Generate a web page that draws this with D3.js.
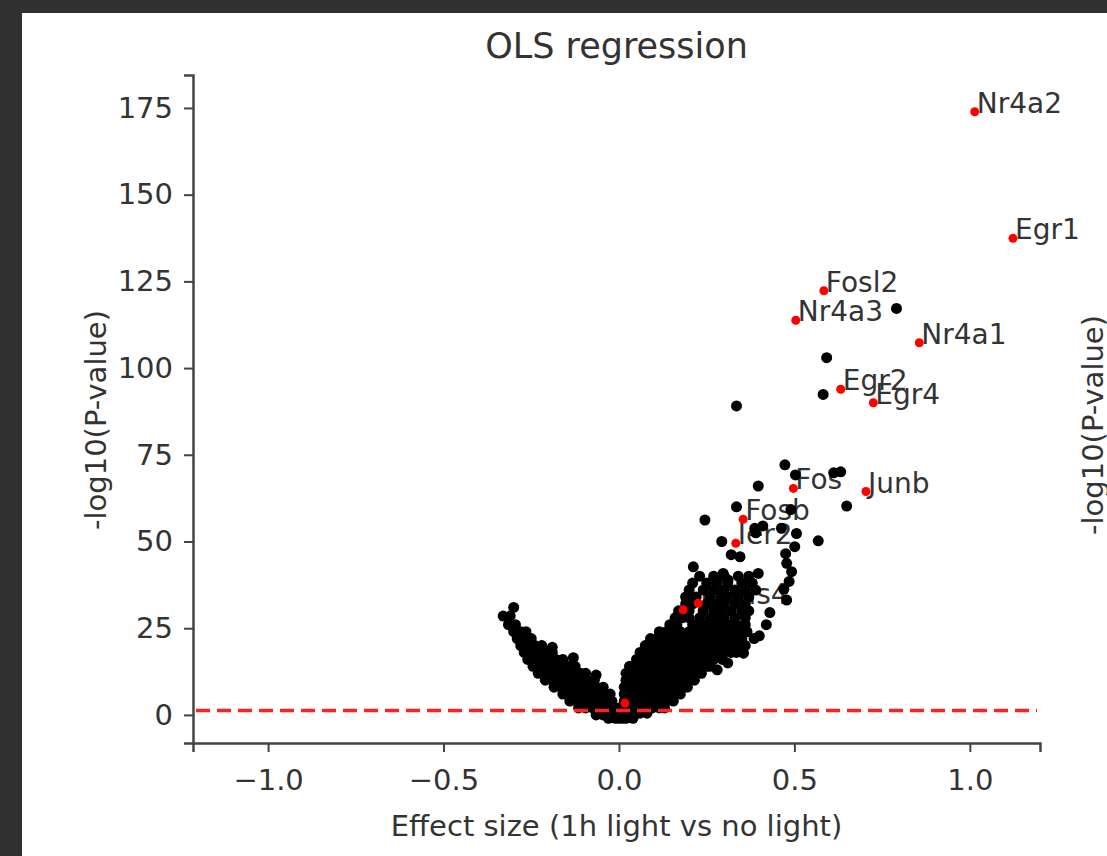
<!DOCTYPE html>
<html>
<head>
<meta charset="utf-8">
<script src="https://cdnjs.cloudflare.com/ajax/libs/d3/7.8.5/d3.min.js"></script>
<style>
    html, body { margin: 0; padding: 0; background: #303030; overflow: hidden; }
    svg { display: block; }
    text { font-family: 'DejaVu Sans', sans-serif; fill: #333; }
</style>
</head>
<body>
<svg id="chart" width="1107" height="856"></svg>
<script>
// values
var xTicks = [-1.0, -0.5, 0.0, 0.5, 1.0];
var yTicks = [0, 25, 50, 75, 100, 125, 150, 175];

var genes = ['Nr4a2', 'Egr1', 'Fosl2', 'Nr4a3', 'Nr4a1', 'Egr2', 'Egr4', 'Fos', 'Junb', 'Fosb', 'Ier2', 'Npas4'];
var geneEffect = [1.014, 1.123, 0.584, 0.504, 0.856, 0.632, 0.725, 0.497, 0.704, 0.354, 0.333, 0.226];
var geneLogP = [173.9, 137.4, 122.3, 113.8, 107.3, 93.9, 90.0, 65.3, 64.4, 56.4, 49.5, 32.2];

// red hits whose labels are hidden under the cloud
var hiddenHits = [[0.183, 30.3], [0.017, 3.4]];

var threshold = 1.3;

// isolated black genes above the cloud
var outliers = [
    [0.791, 117.2], [0.592, 103.0], [0.582, 92.4], [0.335, 89.1],
    [0.473, 72.1], [0.503, 69.2], [0.612, 69.8], [0.632, 70.1],
    [0.397, 66.0], [0.649, 60.2], [0.335, 60.0], [0.49, 59.2],
    [0.245, 56.2], [0.387, 53.8], [0.41, 54.5], [0.39, 52.5], [0.463, 53.8],
    [0.506, 52.3], [0.568, 50.2], [0.293, 50.0], [0.501, 48.5],
    [0.32, 46.2], [0.345, 45.6], [0.475, 46.5], [0.478, 43.7], [0.492, 41.3],
    [0.212, 42.7], [0.297, 40.8], [0.311, 38.9], [0.397, 40.8],
    [0.478, 33.1], [0.47, 36.2], [0.485, 38.5], [0.43, 29.5], [0.42, 26.0],
    [0.40, 22.8], [0.355, 17.8], [0.31, 15.0], [0.28, 13.0],
];

// the dense cloud, row by row: [-log10 p, effect sizes]
var leftWingRows = [
    [31, [-0.30]],
    [28.5, [-0.33, -0.31]],
    [26, [-0.315, -0.295]],
    [24, [-0.30, -0.28, -0.265]],
    [22, [-0.29, -0.27, -0.25]],
    [19.5, [-0.19]],
    [20, [-0.28, -0.26, -0.24, -0.22]],
    [18, [-0.27, -0.25, -0.23, -0.21, -0.19]],
    [16.5, [-0.13]],
    [16, [-0.26, -0.24, -0.22, -0.20, -0.18, -0.16]],
    [14, [-0.245, -0.225, -0.205, -0.185, -0.165, -0.145, -0.125]],
    [12, [-0.23, -0.21, -0.19, -0.17, -0.15, -0.13, -0.11, -0.095]],
    [11.5, [-0.065]],
    [10, [-0.21, -0.19, -0.17, -0.15, -0.13, -0.11, -0.09, -0.07]],
    [8, [-0.185, -0.165, -0.145, -0.125, -0.105, -0.085, -0.065, -0.045]],
    [6, [-0.16, -0.14, -0.12, -0.10, -0.08, -0.06, -0.04, -0.025]],
    [4, [-0.14, -0.12, -0.10, -0.08, -0.06, -0.04, -0.02]],
    [2, [-0.115, -0.095, -0.075, -0.055, -0.035, -0.015, 0.0]],
    [0, [-0.065, -0.045, -0.025, -0.005, 0.01]],
    [-1, [-0.03, -0.01, 0.01]],
];

var rightWingRows = [
    [-1, [0.0, 0.02, 0.04]],
    [0.5, [0.0, 0.02, 0.04, 0.06, 0.08]],
    [2, [0.015, 0.035, 0.055, 0.075, 0.095, 0.115, 0.13]],
    [4, [0.015, 0.035, 0.055, 0.075, 0.095, 0.115, 0.135, 0.155]],
    [6, [0.015, 0.035, 0.055, 0.075, 0.095, 0.115, 0.135, 0.155, 0.175]],
    [8, [0.015, 0.035, 0.055, 0.075, 0.095, 0.115, 0.135, 0.155, 0.175, 0.195]],
    [10, [0.02, 0.04, 0.06, 0.08, 0.10, 0.12, 0.14, 0.16, 0.18, 0.20, 0.215]],
    [12, [0.02, 0.04, 0.06, 0.08, 0.10, 0.12, 0.14, 0.16, 0.18, 0.20, 0.22, 0.235]],
    [14, [0.03, 0.05, 0.07, 0.09, 0.11, 0.13, 0.15, 0.17, 0.19, 0.21, 0.23, 0.25, 0.26]],
    [16, [0.05, 0.07, 0.09, 0.11, 0.13, 0.15, 0.17, 0.19, 0.21, 0.23, 0.25, 0.27, 0.295]],
    [18, [0.06, 0.08, 0.10, 0.12, 0.14, 0.16, 0.18, 0.20, 0.22, 0.24, 0.26, 0.28, 0.30, 0.32, 0.335]],
    [20, [0.075, 0.095, 0.115, 0.135, 0.155, 0.175, 0.195, 0.215, 0.235, 0.255, 0.275, 0.30, 0.32, 0.34, 0.36]],
    [22, [0.09, 0.11, 0.13, 0.15, 0.17, 0.19, 0.21, 0.23, 0.25, 0.27, 0.29, 0.31, 0.33, 0.35, 0.385]],
    [24, [0.115, 0.135, 0.155, 0.175, 0.20, 0.22, 0.24, 0.26, 0.28, 0.30, 0.32, 0.345, 0.365]],
    [26, [0.145, 0.165, 0.21, 0.23, 0.25, 0.27, 0.29, 0.31, 0.335, 0.36]],
    [28, [0.16, 0.18, 0.20, 0.23, 0.26, 0.28, 0.30, 0.33, 0.36]],
    [30, [0.17, 0.20, 0.24, 0.27, 0.29, 0.32, 0.35, 0.37]],
    [32, [0.19, 0.21, 0.25, 0.28, 0.30, 0.33, 0.36]],
    [34, [0.19, 0.22, 0.26, 0.29, 0.31, 0.34, 0.37]],
    [36, [0.20, 0.24, 0.27, 0.30, 0.33, 0.36, 0.39]],
    [38, [0.21, 0.25, 0.28, 0.31, 0.35, 0.38]],
    [40, [0.23, 0.27, 0.30, 0.34, 0.37]],
];

var W = 1107;
var H = 856;
var box = {left: 193, right: 1040, top: 75, bottom: 743};

var svg = d3.select('#chart');

// dark frame round a white figure
svg.append('rect')
    .attr('width', W)
    .attr('height', H)
    .attr('fill', '#303030')
;
svg.append('rect')
    .attr('x', 22)
    .attr('y', 13)
    .attr('width', W - 22)
    .attr('height', H - 13)
    .attr('fill', '#ffffff')
;

var x = d3.scaleLinear().domain([-1.214, 1.2]).range([box.left, box.right]);
var y = d3.scaleLinear().domain([-8.1, 184.5]).range([box.bottom, box.top]);

var rowsToPoints = rows => rows.flatMap(r => r[1].map(v => [v, r[0]]));
var cloud = rowsToPoints(leftWingRows).concat(rowsToPoints(rightWingRows), outliers);
var hits = genes.map((g, i) => ({name: g, x: geneEffect[i], y: geneLogP[i]}));

// axes
var xAxis = d3.axisBottom(x)
    .tickValues(xTicks)
    .tickFormat(d3.format('.1f'))
    .tickSizeOuter(0)
    .tickSize(9)
    .tickPadding(17)
;
var yAxis = d3.axisLeft(y)
    .tickValues(yTicks)
    .tickFormat(d3.format('d'))
    .tickSizeOuter(0)
    .tickSize(9)
    .tickPadding(11)
;

var gx = svg.append('g')
    .attr('transform', `translate(0, ${box.bottom})`)
    .call(xAxis)
;
var gy = svg.append('g')
    .attr('transform', `translate(${box.left}, 0)`)
    .call(yAxis)
;
[gx, gy].forEach(g => {
    g.select('.domain').attr('stroke', '#444').attr('stroke-width', 2.5);
    g.selectAll('.tick line').attr('stroke', '#444').attr('stroke-width', 2);
    g.selectAll('.tick text')
        .attr('fill', '#333')
        .style('font-size', '29px')
        .style('font-family', "'DejaVu Sans', sans-serif")
    ;
});

// gene names sit under the dots, as in the picture
svg.append('g')
    .selectAll('text')
    .data(hits)
    .enter()
    .append('text')
    .attr('x', d => x(d.x) + 2)
    .attr('y', d => y(d.y) + 1)
    .style('font-size', '28px')
    .text(d => d.name)
;

svg.append('g')
    .selectAll('circle')
    .data(cloud)
    .enter()
    .append('circle')
    .attr('cx', d => x(d[0]))
    .attr('cy', d => y(d[1]))
    .attr('r', 5.5)
    .attr('fill', '#000')
;

svg.append('line')
    .attr('x1', x.range()[0] + 3)
    .attr('x2', x.range()[1] - 3)
    .attr('y1', y(threshold))
    .attr('y2', y(threshold))
    .attr('stroke', '#ff2020')
    .attr('stroke-width', 3.5)
    .attr('stroke-dasharray', '14,7')
;

svg.append('g')
    .selectAll('circle')
    .data(hits.map(d => [d.x, d.y]).concat(hiddenHits))
    .enter()
    .append('circle')
    .attr('cx', d => x(d[0]))
    .attr('cy', d => y(d[1]))
    .attr('r', 4.5)
    .attr('fill', '#ff0000')
;

// titles
svg.append('text')
    .attr('x', (box.left + box.right) / 2)
    .attr('y', 58)
    .attr('text-anchor', 'middle')
    .style('font-size', '35px')
    .text('OLS regression')
;
svg.append('text')
    .attr('x', (box.left + box.right) / 2)
    .attr('y', 836)
    .attr('text-anchor', 'middle')
    .style('font-size', '29px')
    .text('Effect size (1h light vs no light)')
;
svg.append('text')
    .attr('transform', 'translate(106, 420) rotate(-90)')
    .attr('text-anchor', 'middle')
    .style('font-size', '29px')
    .text('-log10(P-value)')
;
// next panel's axis label, cut by the right edge
svg.append('text')
    .attr('transform', 'translate(1103, 425) rotate(-90)')
    .attr('text-anchor', 'middle')
    .style('font-size', '29px')
    .text('-log10(P-value)')
;
</script>
</body>
</html>
